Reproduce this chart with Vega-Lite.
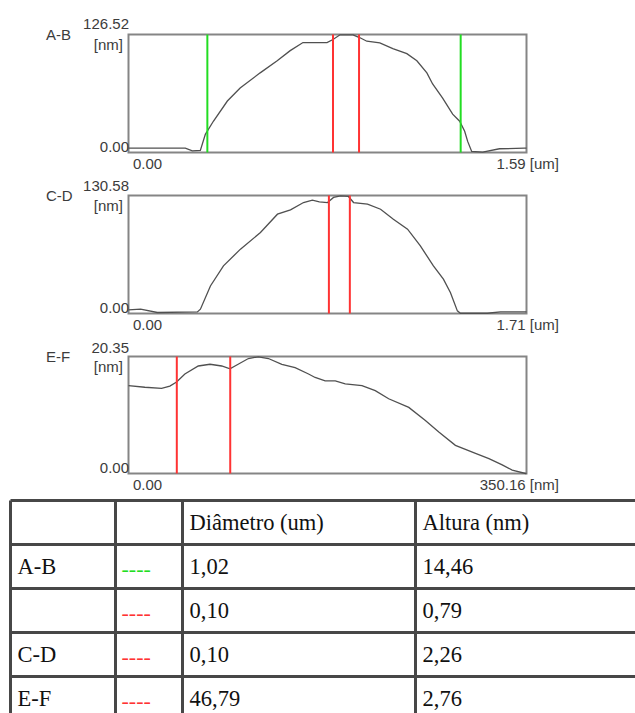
{
  "$schema": "https://vega.github.io/schema/vega-lite/v6.json",
  "background": "white",
  "padding": {"left": 8.5, "top": 15.5, "right": 0, "bottom": 0},
  "bounds": "flush",
  "spacing": 43,
  "config": {
    "view": {"stroke": "#858585", "strokeWidth": 2},
    "font": "Liberation Sans",
    "axis": {
      "grid": false, "ticks": false, "tickSize": 0, "domain": false,
      "labelFont": "Liberation Sans", "labelFontSize": 15, "labelColor": "#3c3c3c",
      "titleFont": "Liberation Sans", "titleFontSize": 15, "titleFontWeight": "normal", "titleColor": "#3c3c3c",
      "labelFlush": false, "labelOverlap": false
    }
  },
  "resolve": {"scale": {"x": "independent", "y": "independent", "color": "independent"}},
  "datasets": {
    "perfil_AB": [
      {"x": 0, "z": 4.6}, {"x": 0.227, "z": 4.6}, {"x": 0.255, "z": 1.8}, {"x": 0.287, "z": 2.2},
      {"x": 0.307, "z": 19.5}, {"x": 0.339, "z": 33.5}, {"x": 0.395, "z": 55.2}, {"x": 0.446, "z": 69.2},
      {"x": 0.526, "z": 85.4}, {"x": 0.594, "z": 98.4}, {"x": 0.646, "z": 109.2}, {"x": 0.697, "z": 117.9},
      {"x": 0.765, "z": 117.9}, {"x": 0.793, "z": 117.9}, {"x": 0.817, "z": 121.1}, {"x": 0.845, "z": 126.2},
      {"x": 0.897, "z": 126.2}, {"x": 0.925, "z": 123.0}, {"x": 0.952, "z": 119.3}, {"x": 1.004, "z": 117.5},
      {"x": 1.056, "z": 111.4}, {"x": 1.112, "z": 106.0}, {"x": 1.152, "z": 98.4}, {"x": 1.192, "z": 85.4},
      {"x": 1.215, "z": 73.5}, {"x": 1.255, "z": 58.4}, {"x": 1.295, "z": 41.1}, {"x": 1.323, "z": 33.5},
      {"x": 1.343, "z": 22.7}, {"x": 1.355, "z": 11.9}, {"x": 1.371, "z": 1.1}, {"x": 1.415, "z": 0.3},
      {"x": 1.482, "z": 4.0}, {"x": 1.582, "z": 4.6}, {"x": 1.59, "z": 4.6}
    ],
    "marcas_AB": [
      {"pos": 0.315, "cor": "verde"}, {"pos": 1.327, "cor": "verde"},
      {"pos": 0.817, "cor": "vermelho"}, {"pos": 0.921, "cor": "vermelho"}
    ],
    "perfil_CD": [
      {"x": 0, "z": 4.0}, {"x": 0.052, "z": 4.8}, {"x": 0.124, "z": 1.1}, {"x": 0.296, "z": 1.8},
      {"x": 0.309, "z": 4.8}, {"x": 0.352, "z": 30.5}, {"x": 0.408, "z": 52.7}, {"x": 0.481, "z": 71.2},
      {"x": 0.567, "z": 89.6}, {"x": 0.64, "z": 109.9}, {"x": 0.696, "z": 114.6}, {"x": 0.752, "z": 122.8},
      {"x": 0.79, "z": 125.4}, {"x": 0.82, "z": 123.5}, {"x": 0.855, "z": 122.8}, {"x": 0.881, "z": 128.4},
      {"x": 0.911, "z": 130.1}, {"x": 0.945, "z": 129.5}, {"x": 0.967, "z": 122.8}, {"x": 1.027, "z": 121.0},
      {"x": 1.083, "z": 115.4}, {"x": 1.138, "z": 104.4}, {"x": 1.199, "z": 93.3}, {"x": 1.254, "z": 74.8},
      {"x": 1.31, "z": 52.7}, {"x": 1.353, "z": 38.0}, {"x": 1.383, "z": 23.2}, {"x": 1.413, "z": 2.9},
      {"x": 1.426, "z": 0.3}, {"x": 1.542, "z": 0.3}, {"x": 1.598, "z": 1.8}, {"x": 1.71, "z": 1.8}
    ],
    "marcas_CD": [
      {"pos": 0.861, "cor": "vermelho"}, {"pos": 0.951, "cor": "vermelho"}
    ],
    "perfil_EF": [
      {"x": 0, "z": 15.3}, {"x": 14.4, "z": 15.0}, {"x": 29.1, "z": 14.8}, {"x": 36.4, "z": 15.2},
      {"x": 42.3, "z": 15.9}, {"x": 49.6, "z": 17.3}, {"x": 61.4, "z": 18.7}, {"x": 71.7, "z": 19.0},
      {"x": 82.0, "z": 18.7}, {"x": 89.3, "z": 18.2}, {"x": 93.7, "z": 18.7}, {"x": 105.5, "z": 20.0},
      {"x": 114.3, "z": 20.3}, {"x": 123.1, "z": 20.0}, {"x": 134.9, "z": 19.0}, {"x": 146.6, "z": 18.4},
      {"x": 158.4, "z": 17.3}, {"x": 164.2, "z": 16.7}, {"x": 173.0, "z": 16.1}, {"x": 181.9, "z": 16.1},
      {"x": 190.7, "z": 15.6}, {"x": 205.4, "z": 15.3}, {"x": 217.1, "z": 14.4}, {"x": 228.9, "z": 13.0},
      {"x": 246.6, "z": 11.5}, {"x": 261.2, "z": 9.2}, {"x": 273.0, "z": 7.2}, {"x": 287.6, "z": 4.9},
      {"x": 305.3, "z": 3.5}, {"x": 317.1, "z": 2.6}, {"x": 328.8, "z": 1.5}, {"x": 337.6, "z": 0.6},
      {"x": 349.3, "z": 0.0}, {"x": 350.16, "z": 0.0}
    ],
    "marcas_EF": [
      {"pos": 42.5, "cor": "vermelho"}, {"pos": 89.5, "cor": "vermelho"}
    ],
    "tabela_linhas": [
      {"linha": 0}, {"linha": 1}, {"linha": 2}, {"linha": 3}, {"linha": 4}
    ],
    "tabela_colunas": [
      {"coluna": 0}, {"coluna": 1}, {"coluna": 2}, {"coluna": 3}
    ],
    "tabela_celulas": [
      {"linha": 0, "coluna": 2, "texto": "Diâmetro (um)"},
      {"linha": 0, "coluna": 3, "texto": "Altura (nm)"},
      {"linha": 1, "coluna": 0, "texto": "A-B"},
      {"linha": 1, "coluna": 2, "texto": "1,02"},
      {"linha": 1, "coluna": 3, "texto": "14,46"},
      {"linha": 2, "coluna": 2, "texto": "0,10"},
      {"linha": 2, "coluna": 3, "texto": "0,79"},
      {"linha": 3, "coluna": 0, "texto": "C-D"},
      {"linha": 3, "coluna": 2, "texto": "0,10"},
      {"linha": 3, "coluna": 3, "texto": "2,26"},
      {"linha": 4, "coluna": 0, "texto": "E-F"},
      {"linha": 4, "coluna": 2, "texto": "46,79"},
      {"linha": 4, "coluna": 3, "texto": "2,76"}
    ],
    "tabela_tracos": [
      {"linha": 1, "coluna": 1, "cor": "verde"},
      {"linha": 2, "coluna": 1, "cor": "vermelho"},
      {"linha": 3, "coluna": 1, "cor": "vermelho"},
      {"linha": 4, "coluna": 1, "cor": "vermelho"}
    ]
  },
  "vconcat": [
    {
      "width": 398, "height": 118,
      "layer": [
        {
          "data": {"name": "perfil_AB"},
          "mark": {"type": "line", "color": "#505050", "strokeWidth": 1.3},
          "encoding": {
            "x": {"field": "x", "type": "quantitative", "scale": {"domain": [0, 1.59], "nice": false, "zero": false},
              "axis": {"values": [0, 1.59], "labelExpr": "datum.value > 0 ? '1.59 [um]' : '0.00'",
                "labelPadding": 11, "labelBaseline": "middle",
                "labelAlign": {"condition": {"test": "datum.value > 0", "value": "right"}, "value": "left"},
                "labelOffset": {"condition": {"test": "datum.value > 0", "value": 32}, "value": 4},
                "title": "A-B", "titleAngle": 0, "titleAlign": "left", "titleBaseline": "middle", "titleX": -83, "titleY": -118}},
            "y": {"field": "z", "type": "quantitative", "scale": {"domain": [0, 126.52], "nice": false, "zero": false},
              "axis": {"values": [0, 126.52], "format": ".2f", "labelAlign": "right", "labelBaseline": "middle", "labelPadding": 0,
                "labelOffset": {"condition": {"test": "datum.value > 0", "value": -11}, "value": -6},
                "title": "[nm]", "titleAngle": 0, "titleAlign": "right", "titleBaseline": "middle", "titleX": -6, "titleY": 10}}
          }
        },
        {
          "data": {"name": "marcas_AB"},
          "mark": {"type": "rule", "strokeWidth": 2},
          "encoding": {
            "x": {"field": "pos", "type": "quantitative"},
            "color": {"field": "cor", "type": "nominal", "scale": {"domain": ["verde", "vermelho"], "range": ["#22dd22", "#ff3333"]}, "legend": null}
          }
        }
      ]
    },
    {
      "width": 398, "height": 118,
      "layer": [
        {
          "data": {"name": "perfil_CD"},
          "mark": {"type": "line", "color": "#505050", "strokeWidth": 1.3},
          "encoding": {
            "x": {"field": "x", "type": "quantitative", "scale": {"domain": [0, 1.71], "nice": false, "zero": false},
              "axis": {"values": [0, 1.71], "labelExpr": "datum.value > 0 ? '1.71 [um]' : '0.00'",
                "labelPadding": 11, "labelBaseline": "middle",
                "labelAlign": {"condition": {"test": "datum.value > 0", "value": "right"}, "value": "left"},
                "labelOffset": {"condition": {"test": "datum.value > 0", "value": 32}, "value": 4},
                "title": "C-D", "titleAngle": 0, "titleAlign": "left", "titleBaseline": "middle", "titleX": -83, "titleY": -118}},
            "y": {"field": "z", "type": "quantitative", "scale": {"domain": [0, 130.58], "nice": false, "zero": false},
              "axis": {"values": [0, 130.58], "format": ".2f", "labelAlign": "right", "labelBaseline": "middle", "labelPadding": 0,
                "labelOffset": {"condition": {"test": "datum.value > 0", "value": -10}, "value": -6},
                "title": "[nm]", "titleAngle": 0, "titleAlign": "right", "titleBaseline": "middle", "titleX": -6, "titleY": 10}}
          }
        },
        {
          "data": {"name": "marcas_CD"},
          "mark": {"type": "rule", "strokeWidth": 2},
          "encoding": {
            "x": {"field": "pos", "type": "quantitative"},
            "color": {"field": "cor", "type": "nominal", "scale": {"domain": ["verde", "vermelho"], "range": ["#22dd22", "#ff3333"]}, "legend": null}
          }
        }
      ]
    },
    {
      "width": 398, "height": 117,
      "layer": [
        {
          "data": {"name": "perfil_EF"},
          "mark": {"type": "line", "color": "#505050", "strokeWidth": 1.3},
          "encoding": {
            "x": {"field": "x", "type": "quantitative", "scale": {"domain": [0, 350.16], "nice": false, "zero": false},
              "axis": {"values": [0, 350.16], "labelExpr": "datum.value > 0 ? '350.16 [nm]' : '0.00'",
                "labelPadding": 11, "labelBaseline": "middle",
                "labelAlign": {"condition": {"test": "datum.value > 0", "value": "right"}, "value": "left"},
                "labelOffset": {"condition": {"test": "datum.value > 0", "value": 32}, "value": 4},
                "title": "E-F", "titleAngle": 0, "titleAlign": "left", "titleBaseline": "middle", "titleX": -83, "titleY": -117}},
            "y": {"field": "z", "type": "quantitative", "scale": {"domain": [0, 20.35], "nice": false, "zero": false},
              "axis": {"values": [0, 20.35], "format": ".2f", "labelAlign": "right", "labelBaseline": "middle", "labelPadding": 0,
                "labelOffset": {"condition": {"test": "datum.value > 0", "value": -9}, "value": -6},
                "title": "[nm]", "titleAngle": 0, "titleAlign": "right", "titleBaseline": "middle", "titleX": -6, "titleY": 10}}
          }
        },
        {
          "data": {"name": "marcas_EF"},
          "mark": {"type": "rule", "strokeWidth": 2},
          "encoding": {
            "x": {"field": "pos", "type": "quantitative"},
            "color": {"field": "cor", "type": "nominal", "scale": {"domain": ["verde", "vermelho"], "range": ["#22dd22", "#ff3333"]}, "legend": null}
          }
        }
      ]
    },
    {
      "width": 507, "height": 197,
      "view": {"stroke": null},
      "layer": [
        {
          "data": {"name": "tabela_linhas"},
          "mark": {"type": "rule", "color": "#474747", "strokeWidth": 3},
          "encoding": {
            "y": {"field": "linha", "type": "quantitative", "scale": {"domain": [0, 5], "range": [-16, 204], "nice": false, "zero": false}, "axis": null},
            "x": {"datum": 0, "type": "quantitative", "scale": {"domain": [0, 1, 2, 3, 4], "range": [-118, -13, 54, 287, 507], "nice": false, "zero": false}, "axis": null},
            "x2": {"value": "width"}
          }
        },
        {
          "data": {"name": "tabela_colunas"},
          "mark": {"type": "rule", "color": "#474747", "strokeWidth": 3},
          "encoding": {
            "x": {"field": "coluna", "type": "quantitative"},
            "y": {"datum": 0, "type": "quantitative"},
            "y2": {"value": "height"}
          }
        },
        {
          "data": {"name": "tabela_celulas"},
          "mark": {"type": "text", "font": "Liberation Serif", "fontSize": 22.5, "align": "left", "baseline": "middle", "dx": 7, "dy": 22, "color": "#111111"},
          "encoding": {
            "x": {"field": "coluna", "type": "quantitative"},
            "y": {"field": "linha", "type": "quantitative"},
            "text": {"field": "texto"}
          }
        },
        {
          "data": {"name": "tabela_tracos"},
          "mark": {"type": "text", "font": "Liberation Serif", "fontSize": 22, "align": "left", "baseline": "middle", "dx": 6, "dy": 24},
          "encoding": {
            "x": {"field": "coluna", "type": "quantitative"},
            "y": {"field": "linha", "type": "quantitative"},
            "text": {"value": "----"},
            "color": {"field": "cor", "type": "nominal", "scale": {"domain": ["verde", "vermelho"], "range": ["#22dd22", "#ff3333"]}, "legend": null}
          }
        }
      ]
    }
  ]
}
